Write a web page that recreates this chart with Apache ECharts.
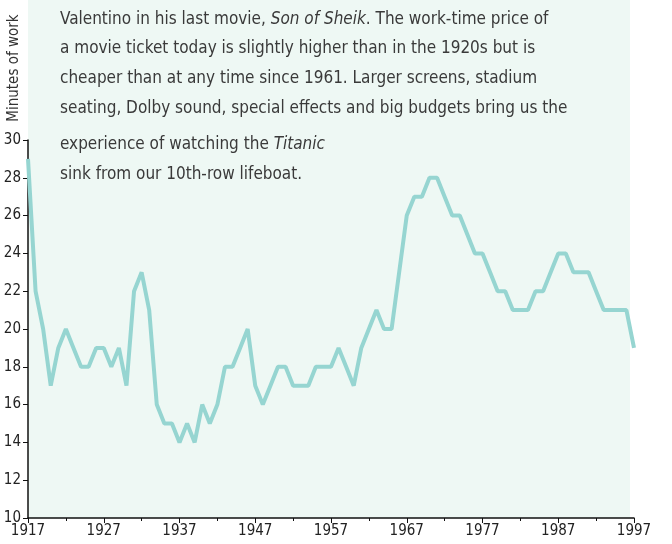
<!DOCTYPE html>
<html>
<head>
<meta charset="utf-8">
<script src="https://cdn.jsdelivr.net/npm/echarts@6/dist/echarts.min.js"></script>
<style>
  html, body { margin: 0; padding: 0; background: #fff; }
  #chart { width: 672px; height: 544px; }
</style>
</head>
<body>
<div id="chart"></div>
<script>
// minutes of work needed to buy a movie ticket, 1917-1997
const years = [];
for (let y = 1917; y <= 1997; y++) years.push(y);
const minutes = [
  29, 22, 20, 17, 19, 20, 19, 18, 18, 19,
  19, 18, 19, 17, 22, 23, 21, 16, 15, 15,
  14, 15, 14, 16, 15, 16, 18, 18, 19, 20,
  17, 16, 17, 18, 18, 17, 17, 17, 18, 18,
  18, 19, 18, 17, 19, 20, 21, 20, 20, 23,
  26, 27, 27, 28, 28, 27, 26, 26, 25, 24,
  24, 23, 22, 22, 21, 21, 21, 22, 22, 23,
  24, 24, 23, 23, 23, 22, 21, 21, 21, 21,
  19
];
const noteLines = [
  [{ t: 'Valentino in his last movie, ' }, { t: 'Son of Sheik', i: true }, { t: '. The work-time price of' }],
  [{ t: 'a movie ticket today is slightly higher than in the 1920s but is' }],
  [{ t: 'cheaper than at any time since 1961. Larger screens, stadium' }],
  [{ t: 'seating, Dolby sound, special effects and big budgets bring us the' }],
  [{ t: 'experience of watching the ' }, { t: 'Titanic', i: true }],
  [{ t: 'sink from our 10th-row lifeboat.' }]
];
const noteY = [18, 47, 77, 107, 143, 173];

const font = '"Liberation Sans Narrow", "DejaVu Sans Condensed", "Roboto Condensed", sans-serif';
const chart = echarts.init(document.getElementById('chart'));

const graphics = [{
  type: 'rect',
  z: -10,
  silent: true,
  shape: { x: 28, y: 0, width: 602, height: 518 },
  style: { fill: '#eef8f4' }
}];
noteLines.forEach((parts, k) => {
  graphics.push({
    type: 'text',
    left: 60,
    top: noteY[k] - 7,
    z: 10,
    style: {
      text: parts.map(p => p.i ? '{it|' + p.t + '}' : '{n|' + p.t + '}').join(''),
      rich: {
        n: { fontFamily: font, fontSize: 17, fill: '#3a3a3a' },
        it: { fontFamily: font, fontSize: 17, fontStyle: 'italic', fill: '#3a3a3a' }
      }
    }
  });
});
graphics.push({
  type: 'text',
  x: 14,
  y: 68,
  rotation: Math.PI / 2,
  style: {
    text: 'Minutes of work',
    fontFamily: font,
    fontSize: 15,
    fill: '#333',
    align: 'center',
    verticalAlign: 'middle'
  }
});

chart.setOption({
  animation: false,
  grid: { left: 28, right: 38, top: 140, bottom: 26 },
  graphic: graphics,
  xAxis: {
    type: 'value',
    min: 1917,
    max: 1997,
    interval: 10,
    axisLine: { show: true, lineStyle: { color: '#111', width: 1.5 } },
    axisTick: { show: true, length: 5, lineStyle: { color: '#111' } },
    minorTick: { show: true, splitNumber: 2, length: 3, lineStyle: { color: '#111' } },
    splitLine: { show: false },
    axisLabel: {
      formatter: v => String(v),
      fontFamily: font,
      fontSize: 15,
      color: '#222',
      margin: 6
    }
  },
  yAxis: {
    type: 'value',
    min: 10,
    max: 30,
    interval: 2,
    axisLine: { show: true, lineStyle: { color: '#111', width: 1.5 } },
    axisTick: { show: true, length: 5, lineStyle: { color: '#111' } },
    splitLine: { show: false },
    axisLabel: {
      fontFamily: font,
      fontSize: 15,
      color: '#222',
      margin: 7
    }
  },
  series: [{
    type: 'line',
    data: years.map((y, i) => [y, minutes[i]]),
    showSymbol: false,
    lineStyle: { color: '#96d5d1', width: 4 },
    z: 3
  }]
});
</script>
</body>
</html>
